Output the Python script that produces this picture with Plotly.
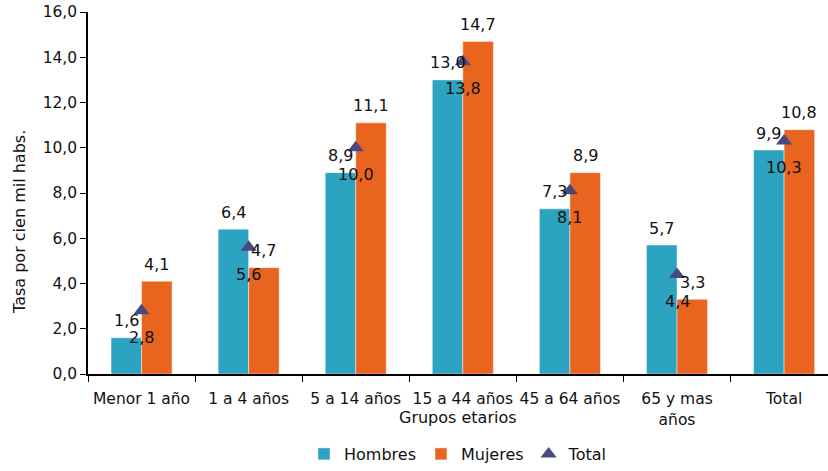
import plotly.graph_objects as go

categories = ["Menor 1 año", "1 a 4 años", "5 a 14 años", "15 a 44 años",
              "45 a 64 años", "65 y mas<br>años", "Total"]
hombres = [1.6, 6.4, 8.9, 13.0, 7.3, 5.7, 9.9]
mujeres = [4.1, 4.7, 11.1, 14.7, 8.9, 3.3, 10.8]
total = [2.8, 5.6, 10.0, 13.8, 8.1, 4.4, 10.3]
y_ticks = [0, 2, 4, 6, 8, 10, 12, 14, 16]

C_H = "#2CA3C0"
C_M = "#E9641F"
C_T = "#474A80"
FONT = "DejaVu Sans"

def fmt(v):
    return f"{v:.1f}".replace(".", ",")

fig = go.Figure()
fig.add_trace(go.Bar(name="Hombres", x=categories, y=hombres, marker_color=C_H,
                     marker_line=dict(color="rgba(255,255,255,0.45)", width=1)))
fig.add_trace(go.Bar(name="Mujeres", x=categories, y=mujeres, marker_color=C_M,
                     marker_line=dict(color="rgba(255,255,255,0.45)", width=1)))
fig.add_trace(go.Scatter(name="Total", x=categories, y=total, mode="markers",
                         marker=dict(symbol="triangle-up", size=14, color=C_T)))

ann = []
off = 0.1425
for i, (h, m, t) in enumerate(zip(hombres, mujeres, total)):
    ann.append(dict(x=i - off, y=h, text=fmt(h), showarrow=False, yshift=17,
                    xanchor="center", yanchor="middle"))
    ann.append(dict(x=i + off, y=m, text=fmt(m), showarrow=False, yshift=17,
                    xanchor="center", yanchor="middle"))
    ann.append(dict(x=i, y=t, text=fmt(t), showarrow=False, yshift=-27,
                    xanchor="center", yanchor="middle"))

ann.append(dict(xref="paper", yref="paper", x=0.5, y=-(425 - 381) / 369,
                text="Grupos etarios", showarrow=False, xanchor="center",
                yanchor="middle", font=dict(size=16)))
ann.append(dict(xref="paper", yref="paper", x=(20 - 88) / 740, y=(381 - 226) / 369,
                text="Tasa por cien mil habs.", showarrow=False, textangle=-90,
                xanchor="center", yanchor="middle", font=dict(size=16)))

fig.update_layout(
    width=828, height=471,
    margin=dict(l=88, r=0, t=12, b=90),
    paper_bgcolor="white", plot_bgcolor="white",
    font=dict(family=FONT, size=16, color="#111111"),
    separators=",.",
    barmode="group", bargap=0.43, bargroupgap=0,
    showlegend=True,
    legend=dict(orientation="h", x=0.5, xanchor="center",
                y=-(463 - 381) / 369, yanchor="middle",
                font=dict(size=16), itemwidth=30, tracegroupgap=0),
    annotations=ann,
    xaxis=dict(type="category", range=[-0.5, 6.41],
               showline=True, linecolor="black", linewidth=1.5,
               ticks="outside", tickson="boundaries", ticklen=6,
               tickcolor="black", showgrid=False, tickfont=dict(size=15.5),
               tickangle=0, ticklabelstandoff=10),
    yaxis=dict(range=[0, 16], tickvals=y_ticks, tickformat=".1f",
               showline=True, linecolor="black", linewidth=1.5,
               ticks="outside", ticklen=6, tickcolor="black",
               showgrid=False, zeroline=False, tickfont=dict(size=15.5)),
)

fig.write_html("out.html")
